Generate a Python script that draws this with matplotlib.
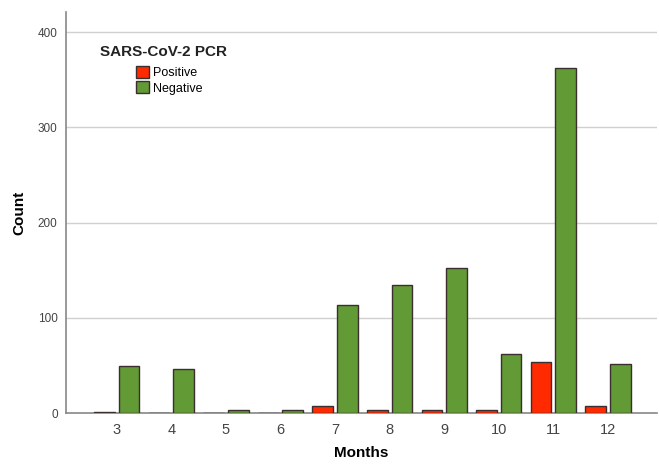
import matplotlib
matplotlib.use("Agg")
import matplotlib.pyplot as plt
import numpy as np
from matplotlib.patches import Patch

months = ["3", "4", "5", "6", "7", "8", "9", "10", "11", "12"]
positive = [1, 0, 0, 0, 7, 3, 3, 3, 54, 7]
negative = [49, 46, 3, 3, 113, 134, 152, 62, 362, 51]
yticks = [0, 100, 200, 300, 400]

plt.rcParams['font.family'] = ['Liberation Sans', 'DejaVu Sans']

RED = '#ff2a00'
GREEN = '#629a35'
EDGE = '#3a2e2e'

fig = plt.figure(figsize=(6.59, 4.68), dpi=100)
ax = fig.add_axes([66/659, 55/468, 591/659, 401/468])

x = np.arange(len(months))
w = 0.38
ax.bar(x - 0.225, positive, width=w, color=RED, edgecolor=EDGE, linewidth=1, zorder=3)
ax.bar(x + 0.225, negative, width=w, color=GREEN, edgecolor=EDGE, linewidth=1, zorder=3)

ax.set_xlim(-0.93, 9.9)
ax.set_ylim(0, 421)
ax.set_xticks(x)
ax.set_xticklabels(months, fontsize=10.5, color='#444444')
ax.set_yticks(yticks)
ax.set_yticklabels([str(t) for t in yticks], fontsize=8.5, color='#444444')
ax.tick_params(axis='x', length=0, pad=7)
ax.tick_params(axis='y', length=0, pad=6)

ax.grid(axis='y', color='#d0d0d0', linewidth=1, zorder=0)
for s in ['top', 'right']:
    ax.spines[s].set_visible(False)
ax.spines['left'].set_color('#888888')
ax.spines['bottom'].set_color('#888888')
ax.spines['left'].set_linewidth(1.2)
ax.spines['bottom'].set_linewidth(1.2)

ax.set_xlabel("Months", fontsize=11, fontweight='bold', labelpad=7)
ax.set_ylabel("Count", fontsize=11, fontweight='bold', labelpad=8)

ax.text(0.058, 0.90, "SARS-CoV-2 PCR", transform=ax.transAxes,
        fontsize=11, fontweight='bold', color='#222222', va='center', ha='left')
handles = [Patch(facecolor=RED, edgecolor=EDGE, label='Positive'),
           Patch(facecolor=GREEN, edgecolor=EDGE, label='Negative')]
ax.legend(handles=handles, loc='upper left', bbox_to_anchor=(0.118, 0.865),
          frameon=False, fontsize=9, handlelength=1.1, handleheight=1.1,
          handletextpad=0.25, labelspacing=0.15, borderpad=0, borderaxespad=0)

fig.savefig("out.png", dpi=100)
